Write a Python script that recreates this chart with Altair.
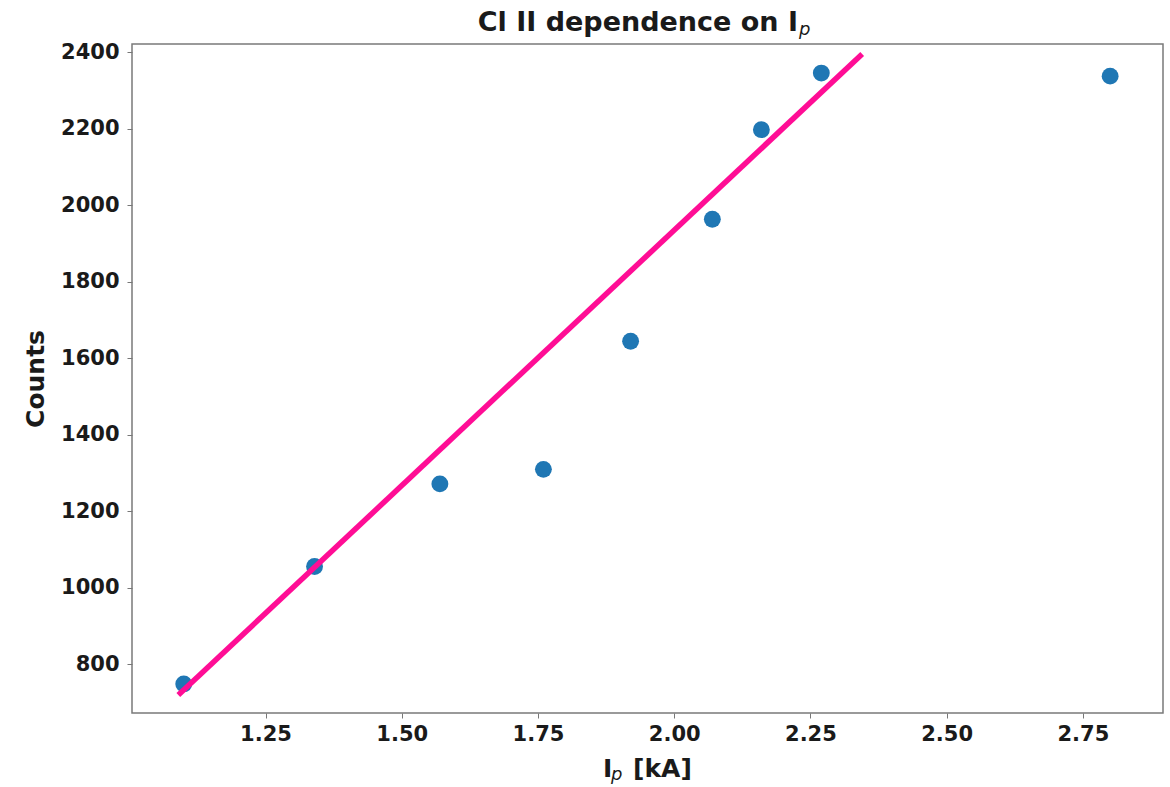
import altair as alt
import pandas as pd

# Measured Cl II line counts against plasma current
ip_ka = [1.10, 1.34, 1.57, 1.76, 1.92, 2.07, 2.16, 2.27, 2.80]
counts = [748, 1055, 1271, 1309, 1644, 1963, 2197, 2345, 2337]

# Linear fit drawn over the lower-current points
fit_ip = [1.09, 2.345]
fit_counts = [719, 2395]

x_ticks = [1.25, 1.50, 1.75, 2.00, 2.25, 2.50, 2.75]
y_ticks = [800, 1000, 1200, 1400, 1600, 1800, 2000, 2200, 2400]

FONT = "DejaVu Sans"
W, H = 1031, 669

points = pd.DataFrame({"ip": ip_ka, "counts": counts})
fit = pd.DataFrame({"ip": fit_ip, "counts": fit_counts})

x_scale = alt.Scale(domain=[1.005, 2.897], nice=False, zero=False)
y_scale = alt.Scale(domain=[672, 2421], nice=False, zero=False)

x_axis = alt.Axis(values=x_ticks, format=".2f", title=None, grid=False,
                  tickSize=5, labelPadding=5, labelFontSize=21,
                  labelFontWeight="bold", labelFont=FONT, labelColor="#1a1a1a",
                  domain=False, tickColor="#777777")
y_axis = alt.Axis(values=y_ticks, format="d", title="Counts", grid=False,
                  tickSize=5, labelPadding=8, labelFontSize=21,
                  labelFontWeight="bold", labelFont=FONT, labelColor="#1a1a1a",
                  titleFontSize=25, titleFontWeight="bold", titleFont=FONT,
                  titleColor="#1a1a1a", titleX=-89, titleBaseline="alphabetic",
                  domain=False, tickColor="#777777")

scatter = alt.Chart(points).mark_circle(size=285, color="#1f77b4", opacity=1).encode(
    x=alt.X("ip:Q", scale=x_scale, axis=x_axis),
    y=alt.Y("counts:Q", scale=y_scale, axis=y_axis),
)

line = alt.Chart(fit).mark_line(color="#ff0d95", strokeWidth=5.5, strokeCap="butt").encode(
    x=alt.X("ip:Q", scale=x_scale),
    y=alt.Y("counts:Q", scale=y_scale),
)


def label(text, x, y, size, weight="bold", style="normal", align="left"):
    return alt.Chart(pd.DataFrame({"t": [text]})).mark_text(
        font=FONT, fontSize=size, fontWeight=weight, fontStyle=style,
        align=align, baseline="alphabetic", color="#1a1a1a",
    ).encode(x=alt.value(x), y=alt.value(y), text="t:N")


# Title and x-axis title with an italic subscript p
title_main = label("Cl II dependence on I", 666, -13, 27, align="right")
title_sub = label("p", 667, -9, 18, weight="normal", style="italic")
xt_i = label("I", 471, 733, 25)
xt_sub = label("p", 479, 736, 18, weight="normal", style="italic")
xt_rest = label("[kA]", 501, 733, 25)

chart = alt.layer(
    scatter, line, title_main, title_sub, xt_i, xt_sub, xt_rest
).properties(
    width=W, height=H,
    background="white",
    autosize=alt.AutoSizeParams(type="none"),
    padding={"left": 132, "top": 44, "right": 7, "bottom": 74},
).configure_view(
    stroke="#7a7a7a", strokeWidth=1.5
)

chart.save("out.html", embed_options={"renderer": "svg", "actions": False})
